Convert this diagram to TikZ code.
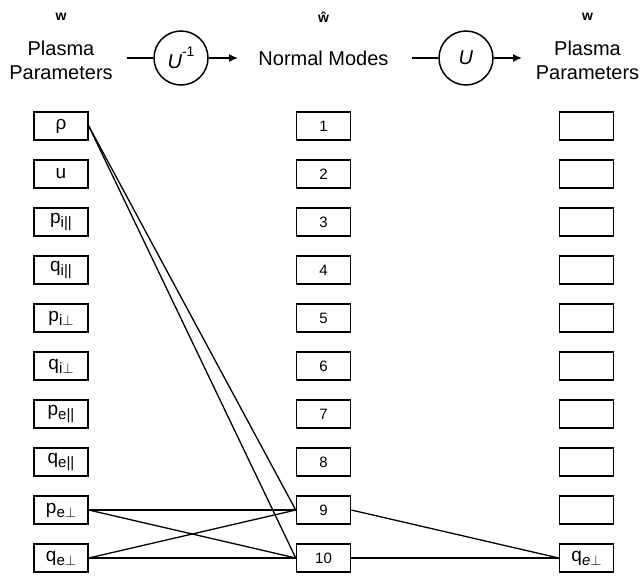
\documentclass[tikz,border=0pt]{standalone}
\usepackage{fontspec}
\setmainfont{Liberation Sans}
\usetikzlibrary{arrows.meta}
% lowered index set in a smaller size
\newcommand\idx[1]{\raisebox{-0.4ex}{\fontsize{15}{15}\selectfont #1}}
\newcommand\perpsym{\ensuremath{\perp}}
\begin{document}
\begin{tikzpicture}[x=1pt,y=-1pt,
  cell/.style={draw, line width=1.5pt, minimum width=54pt, minimum height=28pt, inner sep=0pt},
  var/.style={cell, font=\fontsize{19}{19}\selectfont},
  num/.style={cell, font=\fontsize{15}{15}\selectfont},
  head/.style={align=center, font=\fontsize{20}{24}\selectfont},
  vec/.style={font=\bfseries\fontsize{14}{14}\selectfont},
  op/.style={draw, circle, line width=1.5pt, minimum size=54pt, inner sep=0pt, font=\fontsize{20}{20}\selectfont},
  link/.style={line width=1.3pt},
  flow/.style={line width=1.5pt, -{Latex[length=9pt,width=8pt]}}]
\useasboundingbox (0,0) rectangle (640,584);

% column headings
\node[vec] (wL) at (61,17) {w};
\node[head] (hL) at (61,60) {Plasma\\Parameters};
\node[vec] (wM) at (323.5,17) {ŵ};
\node[head] (hM) at (323.5,58) {Normal Modes};
\node[vec] (wR) at (587.5,17) {w};
\node[head] (hR) at (587.5,60) {Plasma\\Parameters};

% transformation operators
\node[op] (inv) at (181,58) {\textit{U}\raisebox{1.1ex}{\fontsize{14}{14}\selectfont -1}};
\node[op] (fwd) at (466,58) {\textit{U}};
\coordinate (invIn) at (127,58);
\coordinate (invOut) at (238,58);
\coordinate (fwdIn) at (412,58);
\coordinate (fwdOut) at (522,58);
\draw[link, line width=1.5pt] (invIn) -- (inv.west);
\draw[flow] (inv.east) -- (invOut);
\draw[link, line width=1.5pt] (fwdIn) -- (fwd.west);
\draw[flow] (fwd.east) -- (fwdOut);

% plasma parameters (input)
\node[var] (rho)  at (61,126) {ρ};
\node[var] (u)    at (61,174) {u};
\node[var] (pipa) at (61,222) {p\idx{i||}};
\node[var] (qipa) at (61,270) {q\idx{i||}};
\node[var] (pipe) at (61,318) {p\idx{i\perpsym}};
\node[var] (qipe) at (61,366) {q\idx{i\perpsym}};
\node[var] (pepa) at (61,414) {p\idx{e||}};
\node[var] (qepa) at (61,462) {q\idx{e||}};
\node[var] (pepe) at (61,510) {p\idx{e\perpsym}};
\node[var] (qepe) at (61,558) {q\idx{e\perpsym}};

% normal modes and output parameters
\foreach \k in {1,...,10} {
  \node[num] (m\k) at (323.5,{126+48*(\k-1)}) {\k};
}
\foreach \k in {1,...,9} {
  \node[cell] (r\k) at (586.5,{126+48*(\k-1)}) {};
}
\node[var] (r10) at (586.5,558) {q\idx{\textit{e}\perpsym}};

% couplings
\draw[link] (rho.east) -- (m9.west);
\draw[link] (rho.east) -- (m10.west);
\draw[link] (pepe.east) -- (m9.west);
\draw[link] (pepe.east) -- (m10.west);
\draw[link] (qepe.east) -- (m9.west);
\draw[link] (qepe.east) -- (m10.west);
\draw[link] (m9.east) -- (r10.west);
\draw[link] (m10.east) -- (r10.west);
\end{tikzpicture}
\end{document}
